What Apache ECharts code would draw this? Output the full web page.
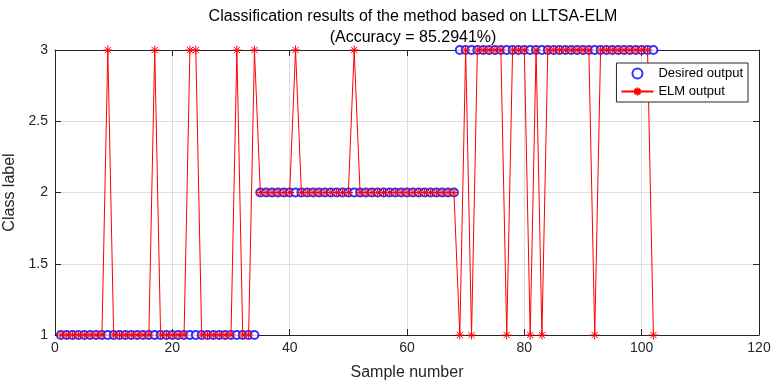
<!DOCTYPE html>
<html>
<head>
<meta charset="utf-8">
<script src="https://cdn.jsdelivr.net/npm/echarts@6/dist/echarts.min.js"></script>
<style>
  html, body { margin: 0; padding: 0; background: #fff; }
  #main { width: 773px; height: 384px; }
</style>
</head>
<body>
<div id="main"></div>
<script>
// sample index 1..102
var samples = [
    1, 2, 3, 4, 5, 6, 7, 8, 9, 10, 11, 12, 13, 14, 15, 16, 17, 18, 19, 20,
    21, 22, 23, 24, 25, 26, 27, 28, 29, 30, 31, 32, 33, 34, 35, 36, 37, 38, 39, 40,
    41, 42, 43, 44, 45, 46, 47, 48, 49, 50, 51, 52, 53, 54, 55, 56, 57, 58, 59, 60,
    61, 62, 63, 64, 65, 66, 67, 68, 69, 70, 71, 72, 73, 74, 75, 76, 77, 78, 79, 80,
    81, 82, 83, 84, 85, 86, 87, 88, 89, 90, 91, 92, 93, 94, 95, 96, 97, 98, 99, 100,
    101, 102
];
// 期望输出
var desired = [
    1, 1, 1, 1, 1, 1, 1, 1, 1, 1, 1, 1, 1, 1, 1, 1, 1, 1, 1, 1,
    1, 1, 1, 1, 1, 1, 1, 1, 1, 1, 1, 1, 1, 1, 2, 2, 2, 2, 2, 2,
    2, 2, 2, 2, 2, 2, 2, 2, 2, 2, 2, 2, 2, 2, 2, 2, 2, 2, 2, 2,
    2, 2, 2, 2, 2, 2, 2, 2, 3, 3, 3, 3, 3, 3, 3, 3, 3, 3, 3, 3,
    3, 3, 3, 3, 3, 3, 3, 3, 3, 3, 3, 3, 3, 3, 3, 3, 3, 3, 3, 3,
    3, 3
];
// ELM 输出
var elmOut = [
    1, 1, 1, 1, 1, 1, 1, 1, 3, 1, 1, 1, 1, 1, 1, 1, 3, 1, 1, 1,
    1, 1, 3, 3, 1, 1, 1, 1, 1, 1, 3, 1, 1, 3, 2, 2, 2, 2, 2, 2,
    3, 2, 2, 2, 2, 2, 2, 2, 2, 2, 3, 2, 2, 2, 2, 2, 2, 2, 2, 2,
    2, 2, 2, 2, 2, 2, 2, 2, 1, 3, 1, 3, 3, 3, 3, 3, 1, 3, 3, 3,
    1, 3, 1, 3, 3, 3, 3, 3, 3, 3, 3, 1, 3, 3, 3, 3, 3, 3, 3, 3,
    3, 1
];
var xTicks = [0, 20, 40, 60, 80, 100, 120];
var yTicks = [1, 1.5, 2, 2.5, 3];

var axisColor = '#262626';
var gridColor = '#dedede';
var fontName = 'Liberation Sans';
// 星号标记
var asterisk = 'path://M0,-10 L0,10 M-10,0 L10,0 M-7,-7 L7,7 M-7,7 L7,-7';

function pairs(ys) {
    var arr = [];
    for (var i = 0; i < samples.length; i++) {
        arr.push([samples[i], ys[i]]);
    }
    return arr;
}

var myChart = echarts.init(document.getElementById('main'));

var option = {
    backgroundColor: '#fff',
    animation: false,
    textStyle: { fontFamily: fontName },
    title: {
        text: 'Classification results of the method based on LLTSA-ELM\n(Accuracy = 85.2941%)',
        left: 408,
        top: 1,
        textAlign: 'center',
        textStyle: { fontSize: 16, fontWeight: 'normal', color: '#000', lineHeight: 21, fontFamily: fontName }
    },
    grid: { left: 55, right: 14, top: 50, bottom: 49, show: false, outerBoundsMode: 'none', containLabel: false },
    legend: {
        right: 25,
        top: 63,
        orient: 'vertical',
        backgroundColor: '#fff',
        borderColor: axisColor,
        borderWidth: 1,
        borderRadius: 0,
        padding: [4, 5, 4, 4],
        itemGap: 5,
        itemWidth: 32,
        itemHeight: 10,
        textStyle: { fontSize: 13, color: '#000', fontFamily: fontName },
        data: ['Desired output', 'ELM output']
    },
    xAxis: [{
        type: 'value',
        min: 0,
        max: 120,
        interval: 20,
        name: 'Sample number',
        nameLocation: 'center',
        nameGap: 30,
        nameTextStyle: { fontSize: 16, color: axisColor },
        axisLine: { onZero: false, lineStyle: { color: axisColor } },
        axisTick: { inside: true, length: 6, lineStyle: { color: axisColor } },
        axisLabel: { fontSize: 14, color: axisColor, margin: 6 },
        splitLine: { show: true, lineStyle: { color: gridColor } }
    }, {
        type: 'value',
        position: 'top',
        min: 0,
        max: 120,
        interval: 20,
        axisLine: { show: true, onZero: false, lineStyle: { color: axisColor } },
        axisTick: { inside: true, length: 6, lineStyle: { color: axisColor } },
        axisLabel: { show: false },
        splitLine: { show: false }
    }],
    yAxis: [{
        type: 'value',
        position: 'left',
        min: 1,
        max: 3,
        interval: 0.5,
        name: 'Class label',
        nameLocation: 'center',
        nameGap: 36,
        nameTextStyle: { fontSize: 16, color: axisColor },
        axisLine: { show: true, onZero: false, lineStyle: { color: axisColor } },
        axisTick: { show: true, inside: true, length: 6, lineStyle: { color: axisColor } },
        axisLabel: { fontSize: 14, color: axisColor, margin: 7 },
        splitLine: { show: true, lineStyle: { color: gridColor } }
    }, {
        type: 'value',
        position: 'right',
        min: 1,
        max: 3,
        interval: 0.5,
        axisLine: { show: true, onZero: false, lineStyle: { color: axisColor } },
        axisTick: { show: true, inside: true, length: 6, lineStyle: { color: axisColor } },
        axisLabel: { show: false },
        splitLine: { show: false }
    }],
    series: [{
        name: 'Desired output',
        type: 'scatter',
        data: pairs(desired),
        symbol: 'emptyCircle',
        symbolSize: 8,
        itemStyle: { color: '#0000ff', borderColor: '#0000ff', borderWidth: 1 },
        z: 2
    }, {
        name: 'ELM output',
        type: 'line',
        data: pairs(elmOut),
        symbol: asterisk,
        symbolSize: 9,
        showAllSymbol: true,
        itemStyle: { color: '#ff0000', borderColor: '#ff0000', borderWidth: 1 },
        lineStyle: { color: '#ff0000', width: 1 },
        z: 3
    }]
};

myChart.setOption(option);
window.onresize = myChart.resize;
</script>
</body>
</html>
